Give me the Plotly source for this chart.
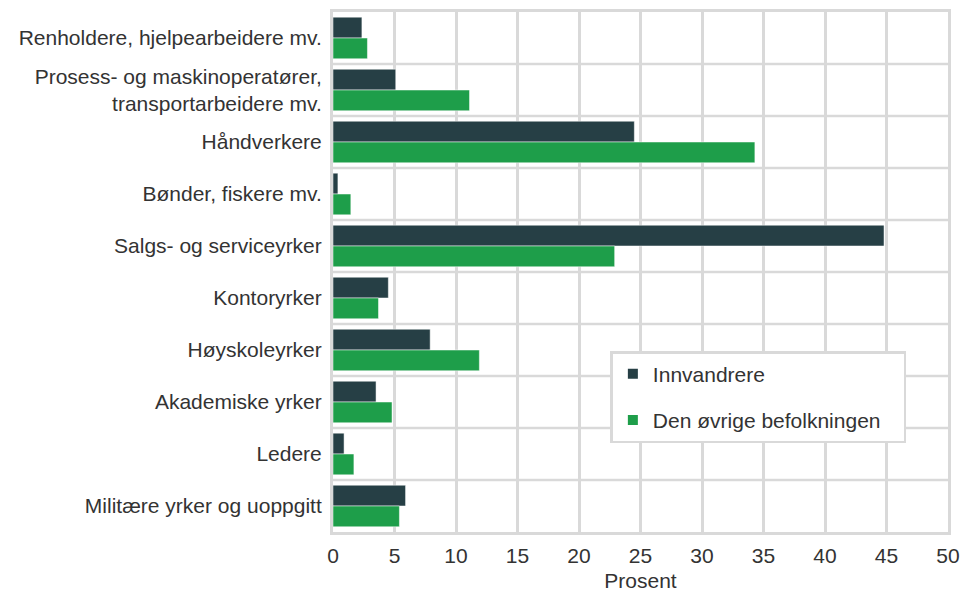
import plotly.graph_objects as go

categories = [
    "Renholdere, hjelpearbeidere mv.",
    "Prosess- og maskinoperatører,<br>transportarbeidere mv.",
    "Håndverkere",
    "Bønder, fiskere mv.",
    "Salgs- og serviceyrker",
    "Kontoryrker",
    "Høyskoleyrker",
    "Akademiske yrker",
    "Ledere",
    "Militære yrker og uoppgitt",
]
innvandrere = [2.35, 5.1, 24.5, 0.4, 44.8, 4.5, 7.9, 3.5, 0.9, 5.9]
ovrige = [2.8, 11.1, 34.3, 1.45, 22.9, 3.7, 11.9, 4.8, 1.7, 5.4]
xticks = [0, 5, 10, 15, 20, 25, 30, 35, 40, 45, 50]

DARK = "#263f45"
GREEN = "#1e9e4a"
GRID = "#d9d9d9"
FONT = "Liberation Sans, Arial, sans-serif"
FS = 21

fig = go.Figure()
fig.add_trace(go.Bar(y=categories, x=innvandrere, orientation="h", name="Innvandrere",
                     legendgroup="a",
                     marker=dict(color=DARK, line=dict(color="#ffffff", width=0.5))))
fig.add_trace(go.Bar(y=categories, x=ovrige, orientation="h",
                     name="Den øvrige befolkningen\u00a0\u00a0\u00a0",
                     legendgroup="b",
                     marker=dict(color=GREEN, line=dict(color="#ffffff", width=0.5))))

# horizontal separators between categories
for i in range(len(categories) - 1):
    fig.add_shape(type="line", xref="x", yref="y", x0=0, x1=50, y0=i + 0.5, y1=i + 0.5,
                  line=dict(color=GRID, width=2.5), layer="below")

fig.update_layout(
    width=976, height=599,
    margin=dict(l=325, r=36, t=1, b=75),
    paper_bgcolor="white", plot_bgcolor="white",
    font=dict(family=FONT, size=FS, color="#333333"),
    barmode="group", bargap=0.2, bargroupgap=0,
    legend=dict(x=0.451, y=0.348, xanchor="left", yanchor="top",
                bgcolor="white", bordercolor=GRID, borderwidth=2.5,
                font=dict(size=FS), traceorder="grouped",
                tracegroupgap=16, itemsizing="constant",
                itemwidth=30),
    xaxis=dict(range=[0, 50], tickvals=xticks, showgrid=True, gridcolor=GRID, gridwidth=2.5,
               showline=True, linecolor=GRID, linewidth=3, mirror=True, zeroline=False,
               ticks="", ticklabelstandoff=3, tickfont=dict(size=FS),
               title=dict(text="Prosent", font=dict(size=FS), standoff=8)),
    yaxis=dict(autorange="reversed", showgrid=False, showline=True, linecolor=GRID,
               linewidth=3, mirror=True, ticks="", ticklabelstandoff=4,
               tickfont=dict(size=FS)),
)

fig.write_html("out.html")
